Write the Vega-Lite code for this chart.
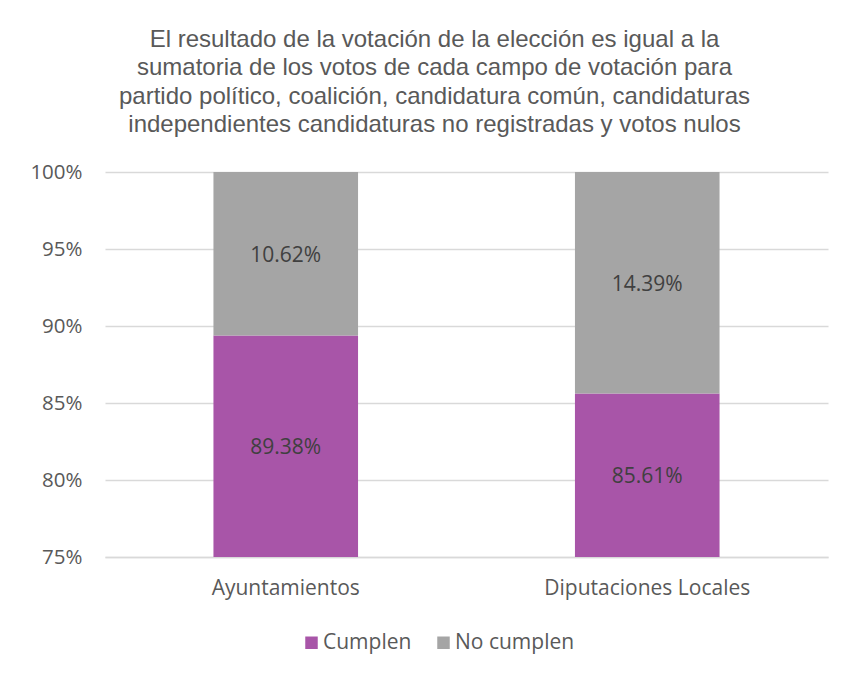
{
  "$schema": "https://vega.github.io/schema/vega-lite/v6.json",
  "width": 723,
  "height": 385,
  "autosize": {"type": "none"},
  "padding": {"left": 105, "top": 172, "right": 15, "bottom": 117},
  "background": "white",
  "title": {
    "text": ["El resultado de la votación de la elección es igual a la", "sumatoria de los votos de cada campo de votación para", "partido político, coalición, candidatura común, candidaturas", "independientes candidaturas no registradas y votos nulos"],
    "font": "Liberation Sans",
    "fontSize": 24,
    "fontWeight": "normal",
    "color": "#595959",
    "lineHeight": 28.3,
    "anchor": "middle",
    "frame": "group",
    "offset": 25,
    "dx": -32
  },
  "data": {
    "values": [
      {"tipo": "Ayuntamientos", "estado": "Cumplen", "valor": 0.8938, "orden": 1},
      {"tipo": "Ayuntamientos", "estado": "No cumplen", "valor": 0.1062, "orden": 2},
      {"tipo": "Diputaciones Locales", "estado": "Cumplen", "valor": 0.8561, "orden": 1},
      {"tipo": "Diputaciones Locales", "estado": "No cumplen", "valor": 0.1439, "orden": 2}
    ]
  },
  "transform": [
    {"stack": "valor", "groupby": ["tipo"], "sort": [{"field": "orden"}], "as": ["v0", "v1"]},
    {"calculate": "(max(datum.v0, 0.75) + datum.v1) / 2", "as": "mid"}
  ],
  "encoding": {
    "x": {
      "field": "tipo",
      "type": "nominal",
      "title": null,
      "scale": {"paddingInner": 0.6, "paddingOuter": 0.3},
      "axis": {
        "labelAngle": 0,
        "labelFont": "Open Sans",
        "labelFontSize": 21,
        "labelColor": "#595959",
        "labelPadding": 20,
        "labelLimit": 0,
        "ticks": false,
        "domain": true,
        "domainColor": "#D9D9D9",
        "domainWidth": 1.5
      }
    }
  },
  "layer": [
    {
      "mark": {"type": "bar", "clip": true},
      "encoding": {
        "y": {
          "field": "v0",
          "type": "quantitative",
          "scale": {"domain": [0.75, 1], "nice": false, "zero": false},
          "title": null,
          "axis": {
            "format": ".0%",
            "values": [0.75, 0.8, 0.85, 0.9, 0.95, 1],
            "labelFont": "Open Sans",
            "labelFontSize": 20.5,
            "labelColor": "#595959",
            "labelPadding": 23,
            "ticks": false,
            "domain": false,
            "grid": true,
            "gridColor": "#D9D9D9",
            "gridWidth": 1.5
          }
        },
        "y2": {"field": "v1"},
        "color": {
          "field": "estado",
          "type": "nominal",
          "scale": {"domain": ["Cumplen", "No cumplen"], "range": ["#A855A8", "#A5A5A5"]},
          "legend": {
            "title": null,
            "orient": "none",
            "direction": "horizontal",
            "legendX": 196,
            "legendY": 460,
            "symbolType": "square",
            "symbolSize": 156,
            "symbolStrokeWidth": 0,
            "labelFont": "Open Sans",
            "labelFontSize": 21,
            "labelColor": "#595959",
            "labelOffset": 1,
            "columnPadding": 21
          }
        }
      }
    },
    {
      "mark": {"type": "text", "font": "Open Sans", "fontSize": 21, "color": "#404040", "baseline": "middle", "dy": 2},
      "encoding": {
        "y": {"field": "mid", "type": "quantitative"},
        "text": {"field": "valor", "type": "quantitative", "format": ".2%"}
      }
    }
  ],
  "config": {
    "view": {"stroke": null}
  }
}
